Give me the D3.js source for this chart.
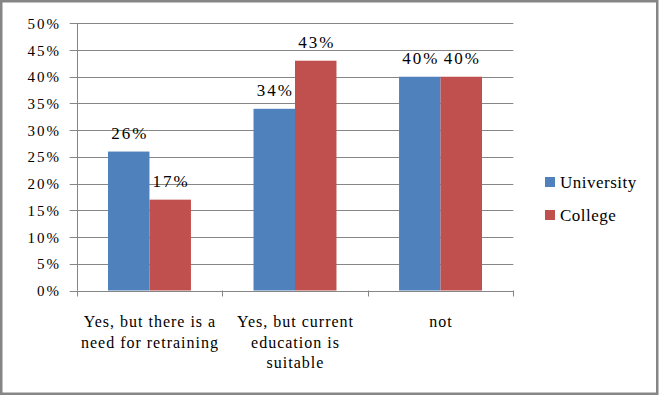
<!DOCTYPE html>
<html>
<head>
<meta charset="utf-8">
<script src="https://cdn.jsdelivr.net/npm/d3@7"></script>
</head>
<body style="margin:0; background:#fff">
<div id="chart"></div>
<script>
// data
const categories = [
  ["Yes, but there is a", "need for retraining"],
  ["Yes, but current", "education is", "suitable"],
  ["not"]
];
const seriesNames = ["University", "College"];
const university = [26, 34, 40];
const college = [17, 43, 40];
const yTicks = [0, 5, 10, 15, 20, 25, 30, 35, 40, 45, 50];
const colors = ["#4F81BD", "#C0504D"];

const width = 660, height = 396;
const font = "'Liberation Serif'";

const svg = d3.select("#chart").append("svg")
  .attr("width", width)
  .attr("height", height)
  .attr("font-family", font);

// outer frame
svg.append("rect")
  .attr("x", 1.25).attr("y", 1.25)
  .attr("width", 656).attr("height", 392.5)
  .attr("fill", "#fff")
  .attr("stroke", "#868686")
  .attr("stroke-width", 2.5);

const plot = { left: 76.7, right: 513.3, top: 23.3, bottom: 290.5 };

const x0 = d3.scaleBand()
  .domain(d3.range(categories.length))
  .range([plot.left, plot.right])
  .paddingInner(0.43)
  .paddingOuter(0.215);

const x1 = d3.scaleBand()
  .domain(seriesNames)
  .range([0, x0.bandwidth()]);

const y = d3.scaleLinear()
  .domain([0, 50])
  .range([plot.bottom, plot.top]);

// gridlines + y labels
const g = svg.append("g");
g.selectAll("line.grid")
  .data(yTicks)
  .enter().append("line")
  .attr("x1", plot.left - 7)
  .attr("x2", plot.right)
  .attr("y1", d => Math.round(y(d)) + 0.5)
  .attr("y2", d => Math.round(y(d)) + 0.5)
  .attr("stroke", "#868686")
  .attr("stroke-width", 1);

g.selectAll("text.ytick")
  .data(yTicks)
  .enter().append("text")
  .attr("x", 61)
  .attr("y", d => y(d) + 5.5)
  .attr("text-anchor", "end")
  .attr("font-family", font)
  .attr("font-size", 15)
  .attr("letter-spacing", 2)
  .text(d => d + "%");

// y axis line
g.append("line")
  .attr("x1", Math.round(plot.left) + 0.5).attr("x2", Math.round(plot.left) + 0.5)
  .attr("y1", plot.top).attr("y2", plot.bottom)
  .attr("stroke", "#868686");

// x ticks between categories
const bounds = d3.range(categories.length + 1).map(i => plot.left + i * (plot.right - plot.left) / categories.length);
g.selectAll("line.xtick")
  .data(bounds)
  .enter().append("line")
  .attr("x1", d => Math.round(d) + 0.5).attr("x2", d => Math.round(d) + 0.5)
  .attr("y1", plot.bottom).attr("y2", plot.bottom + 6)
  .attr("stroke", "#868686");

// bars
const rows = categories.map((c, i) => [
  { s: seriesNames[0], v: university[i], c: colors[0] },
  { s: seriesNames[1], v: college[i], c: colors[1] }
]);

const groups = svg.selectAll("g.cat")
  .data(rows)
  .enter().append("g")
  .attr("transform", (d, i) => "translate(" + x0(i) + ",0)");

groups.selectAll("rect")
  .data(d => d)
  .enter().append("rect")
  .attr("x", d => x1(d.s))
  .attr("y", d => y(d.v))
  .attr("width", x1.bandwidth())
  .attr("height", d => y(0) - y(d.v))
  .attr("fill", d => d.c);

groups.selectAll("text.val")
  .data(d => d)
  .enter().append("text")
  .attr("x", d => x1(d.s) + x1.bandwidth() / 2 + 1)
  .attr("y", d => y(d.v) - 12.5)
  .attr("text-anchor", "middle")
  .attr("font-family", font)
  .attr("font-size", 17)
  .attr("letter-spacing", 2)
  .text(d => d.v + "%");

// category labels
const labels = svg.selectAll("text.cat")
  .data(categories)
  .enter().append("text")
  .attr("text-anchor", "middle")
  .attr("font-family", font)
  .attr("font-size", 16)
  .attr("letter-spacing", 1);

labels.selectAll("tspan")
  .data((d, i) => d.map(t => ({ t, i })))
  .enter().append("tspan")
  .attr("x", d => x0(d.i) + x0.bandwidth() / 2 + 0.5)
  .attr("y", (d, j) => 327.3 + j * 20.5)
  .text(d => d.t);

// legend
const legend = svg.selectAll("g.leg")
  .data(seriesNames)
  .enter().append("g")
  .attr("transform", (d, i) => "translate(545," + (177 + i * 33) + ")");

legend.append("rect")
  .attr("width", 10).attr("height", 10)
  .attr("fill", (d, i) => colors[i]);

legend.append("text")
  .attr("x", 15)
  .attr("y", 11.3)
  .attr("font-family", font)
  .attr("font-size", 17)
  .attr("letter-spacing", 0.5)
  .text(d => d);
</script>
</body>
</html>
